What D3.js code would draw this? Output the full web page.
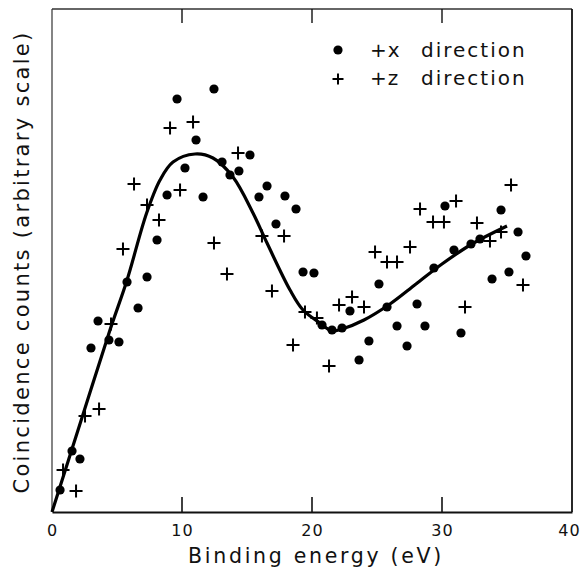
<!DOCTYPE html>
<html lang="en">
<head>
<meta charset="utf-8">
<script src="https://d3js.org/d3.v7.min.js"></script>
<style>
  body { margin: 0; background: #fff; }
  text { font-family: "DejaVu Sans", sans-serif; fill: #111; }
</style>
</head>
<body>
<div id="chart"></div>
<script>
// +x direction (filled dots): [binding energy, counts]
const xDirPoints = [
  [0.62, 4.4], [1.54, 12.2], [2.15, 10.6], [3.0, 32.8], [3.54, 38.2],
  [4.38, 34.4], [5.15, 34.0], [5.77, 46.0], [6.62, 40.8], [7.31, 47.0],
  [8.08, 54.4], [8.85, 63.4], [9.62, 82.6], [10.23, 68.8], [11.08, 74.4],
  [11.62, 63.0], [12.46, 84.6], [13.08, 70.0], [13.69, 67.4], [14.38, 68.2],
  [15.23, 71.4], [15.92, 63.0], [16.54, 65.2], [17.23, 57.6], [17.92, 63.2],
  [18.77, 60.6], [19.31, 48.0], [20.15, 47.8], [20.77, 37.4], [21.54, 36.4],
  [22.31, 36.8], [22.92, 40.2], [23.62, 30.4], [24.38, 34.2], [25.15, 45.6],
  [25.77, 41.0], [26.54, 37.2], [27.31, 33.2], [28.08, 41.6], [28.69, 37.2],
  [29.38, 48.8], [30.23, 61.2], [30.92, 52.4], [31.46, 35.8], [32.23, 53.6],
  [32.92, 54.6], [33.85, 46.6], [34.54, 60.4], [35.15, 48.0], [35.85, 56.0],
  [36.46, 51.2]
];

// +z direction (crosses)
const zDirPoints = [
  [0.85, 8.4], [1.85, 4.2], [2.54, 19.2], [3.62, 20.6], [4.54, 37.6],
  [5.46, 52.6], [6.31, 65.6], [7.31, 61.4], [8.23, 58.4], [9.08, 76.8],
  [9.85, 64.4], [10.85, 78.0], [12.46, 53.8], [13.46, 47.6], [14.31, 71.8],
  [16.15, 55.2], [17.85, 55.2], [16.92, 44.2], [18.54, 33.4], [19.46, 40.0],
  [20.38, 38.8], [21.31, 29.2], [22.08, 41.4], [23.08, 43.0], [24.0, 41.0],
  [24.85, 52.0], [25.77, 50.0], [26.54, 50.0], [27.54, 53.0], [28.31, 60.6],
  [29.31, 58.0], [30.15, 58.0], [31.08, 62.2], [31.77, 41.0], [32.69, 57.8],
  [33.69, 54.2], [34.54, 56.0], [35.31, 65.4], [36.23, 45.4]
];

// smooth fitted curve
const curvePoints = [
  [0, 0], [2.2, 18.0], [4.46, 36.4], [5.75, 46.2], [7.28, 59.8], [8.31, 66.4],
  [9.31, 70.0], [11.0, 71.6], [12.38, 70.8], [13.92, 67.0], [15.46, 59.8],
  [16.54, 53.8], [18.31, 44.4], [19.31, 40.4], [20.62, 37.8], [21.54, 36.2],
  [22.31, 36.6], [24.0, 38.4], [26.0, 41.6], [28.0, 45.6], [30.0, 49.6],
  [32.3, 53.6], [35.0, 57.2]
];

const xTicks = [0, 10, 20, 30, 40];
const innerTicks = [10, 20, 30];

const W = 582, H = 573;
const frame = {left: 52, right: 572, top: 9, bottom: 512};

const svg = d3.select("#chart").append("svg")
    .attr("width", W)
    .attr("height", H);

const x = d3.scaleLinear().domain([0, 40]).range([frame.left, frame.right]);
const y = d3.scaleLinear().domain([0, 100.6]).range([frame.bottom, frame.top]);

// frame
svg.append("line").attr("x1", frame.left).attr("x2", frame.left).attr("y1", frame.top).attr("y2", frame.bottom)
    .attr("stroke", "#333").attr("stroke-width", 1.2);
svg.append("line").attr("x1", frame.left).attr("x2", frame.right).attr("y1", frame.top).attr("y2", frame.top)
    .attr("stroke", "#333").attr("stroke-width", 1.3);
svg.append("line").attr("x1", frame.right).attr("x2", frame.right).attr("y1", frame.top).attr("y2", frame.bottom)
    .attr("stroke", "#111").attr("stroke-width", 1.8);

// bottom axis, ticks drawn inward separately
const xAxis = svg.append("g")
    .attr("transform", `translate(0,${frame.bottom})`)
    .call(d3.axisBottom(x).tickValues(xTicks).tickSize(0).tickPadding(13).tickFormat(d3.format("d")));
xAxis.select(".domain").attr("stroke", "#111").attr("stroke-width", 2);
xAxis.selectAll("text").style("font-size", "16px").style("letter-spacing", "1px").attr("fill", "#111");
// last label sits against the right edge, keep it inside
xAxis.selectAll("text").filter(d => d === 40).attr("dx", "-3px");

svg.append("g").selectAll("line")
  .data(innerTicks)
  .join("line")
    .attr("x1", d => x(d)).attr("x2", d => x(d))
    .attr("y1", frame.bottom).attr("y2", frame.bottom - 15)
    .attr("stroke", "#111").attr("stroke-width", 1.6);

// top ticks
svg.append("g").selectAll("line")
  .data(innerTicks)
  .join("line")
    .attr("x1", d => x(d)).attr("x2", d => x(d))
    .attr("y1", frame.top).attr("y2", frame.top + 14)
    .attr("stroke", "#111").attr("stroke-width", 1.4);

// axis titles
svg.append("text")
    .attr("x", 316).attr("y", 563)
    .attr("text-anchor", "middle")
    .style("font-size", "20.5px")
    .style("letter-spacing", "2.7px")
    .text("Binding energy (eV)");

svg.append("text")
    .attr("transform", "translate(29,262) rotate(-90)")
    .attr("text-anchor", "middle")
    .style("font-size", "21px")
    .style("letter-spacing", "2.3px")
    .text("Coincidence counts (arbitrary scale)");

// fitted curve
svg.append("path")
    .datum(curvePoints)
    .attr("d", d3.line()
      .x(d => x(d[0]))
      .y(d => y(d[1]))
      .curve(d3.curveCatmullRom.alpha(0.5)))
    .attr("fill", "none")
    .attr("stroke", "#000")
    .attr("stroke-width", 3.2)
    .attr("stroke-linejoin", "round");

// dots
svg.append("g").selectAll("circle")
  .data(xDirPoints)
  .join("circle")
    .attr("cx", d => x(d[0]))
    .attr("cy", d => y(d[1]))
    .attr("r", 4.6)
    .attr("fill", "#000");

// crosses
function plusPath(s) {
  return `M${-s},0H${s}M0,${-s}V${s}`;
}
svg.append("g").selectAll("path")
  .data(zDirPoints)
  .join("path")
    .attr("transform", d => `translate(${x(d[0])},${y(d[1])})`)
    .attr("d", plusPath(6.5))
    .attr("stroke", "#000")
    .attr("stroke-width", 2)
    .attr("fill", "none");

// legend
const legend = svg.append("g");
legend.append("circle").attr("cx", 338).attr("cy", 50).attr("r", 4.6).attr("fill", "#000");
legend.append("path").attr("transform", "translate(338,79)").attr("d", plusPath(5.5))
    .attr("stroke", "#000").attr("stroke-width", 2);
const legendLabels = ["+x", "+z"];
legendLabels.forEach((t, i) => {
  legend.append("text").attr("x", 370).attr("y", 57 + i * 28)
      .style("font-size", "20px").style("letter-spacing", "1px").text(t);
  legend.append("text").attr("x", 421).attr("y", 57 + i * 28)
      .style("font-size", "20px").style("letter-spacing", "2px").text("direction");
});
</script>
</body>
</html>
